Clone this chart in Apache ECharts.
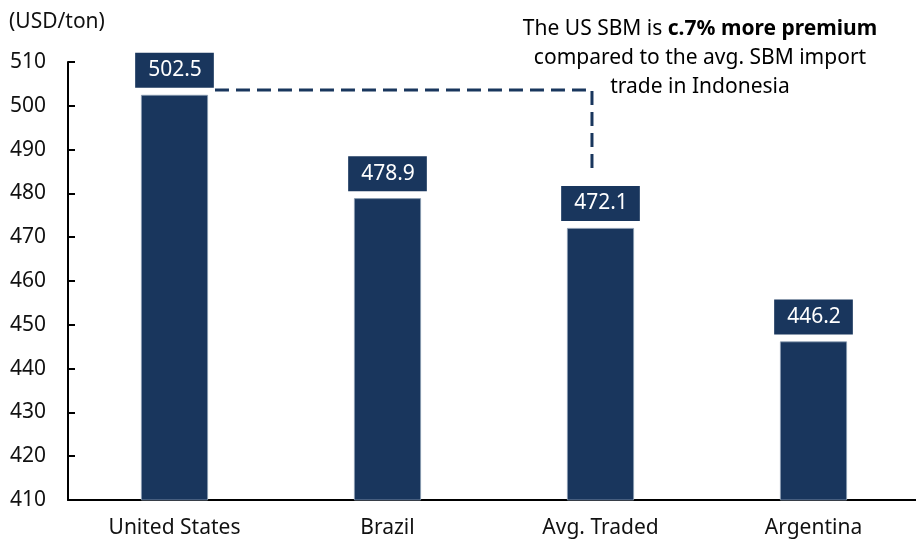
<!DOCTYPE html>
<html>
<head>
<meta charset="utf-8">
<script src="https://cdn.jsdelivr.net/npm/echarts@6/dist/echarts.min.js"></script>
<style>
  html, body { margin: 0; padding: 0; background: #fff; }
  #chart { width: 916px; height: 543px; }
</style>
</head>
<body>
<div id="chart"></div>
<script>
// 数据
const categories = ['United States', 'Brazil', 'Avg. Traded', 'Argentina'];
const prices = [502.5, 478.9, 472.1, 446.2];
const yTicks = { min: 410, max: 510, step: 10 };

// 连接线 (US 顶部 -> Avg. Traded 上方)
const connector = [[0.19, 503.6], [1.96, 503.6], [1.96, 484.9]];

const navy = '#19365d';
const font = 'Noto Sans';
const fs = 21;

const chart = echarts.init(document.getElementById('chart'));
chart.setOption({
  animation: false,
  textStyle: { fontFamily: font },
  title: {
    text: '(USD/ton)',
    left: 4,
    top: 7,
    textStyle: { fontFamily: font, fontSize: fs, fontWeight: 'normal', color: '#111' }
  },
  graphic: [{
    type: 'text',
    x: 700,
    y: 15,
    style: {
      text: '{n|The US SBM is }{b|c.7% more premium}\n{n|compared to the avg. SBM import}\n{n|trade in Indonesia}',
      align: 'center',
      rich: {
        n: { fontFamily: font, fontSize: fs, color: '#111', lineHeight: 29 },
        b: { fontFamily: font, fontSize: fs, fontWeight: 'bold', color: '#111', lineHeight: 29 }
      }
    }
  }],
  // 网格略超出右边界, 与原图一致
  grid: { left: 68, width: 852, top: 62, bottom: 43, outerBoundsMode: 'none' },
  xAxis: [{
    type: 'category',
    data: categories,
    axisLine: { lineStyle: { color: '#000', width: 2 } },
    axisTick: { show: false },
    axisLabel: { color: '#111', fontSize: fs, margin: 18 }
  }, {
    type: 'value',
    min: -0.5,
    max: 3.5,
    show: false
  }],
  yAxis: {
    type: 'value',
    min: yTicks.min,
    max: yTicks.max,
    interval: yTicks.step,
    axisLine: { show: true, onZero: false, lineStyle: { color: '#000', width: 2 } },
    axisTick: { show: true, inside: true, length: 7, lineStyle: { color: '#000', width: 2 } },
    axisLabel: { color: '#111', fontSize: fs, margin: 22 },
    splitLine: { show: false }
  },
  series: [{
    type: 'bar',
    data: prices,
    barWidth: 67,
    itemStyle: { color: navy, borderColor: '#8b9db3', borderWidth: 0.8 },
    label: {
      show: true,
      position: 'top',
      distance: 7,
      formatter: p => p.value.toFixed(1),
      color: '#fff',
      fontSize: fs,
      backgroundColor: navy,
      padding: [7, 12, 7, 13]
    }
  }, {
    type: 'line',
    xAxisIndex: 1,
    data: connector,
    symbol: 'none',
    silent: true,
    lineStyle: { color: navy, width: 3, type: [14, 7] }
  }]
});
</script>
</body>
</html>
